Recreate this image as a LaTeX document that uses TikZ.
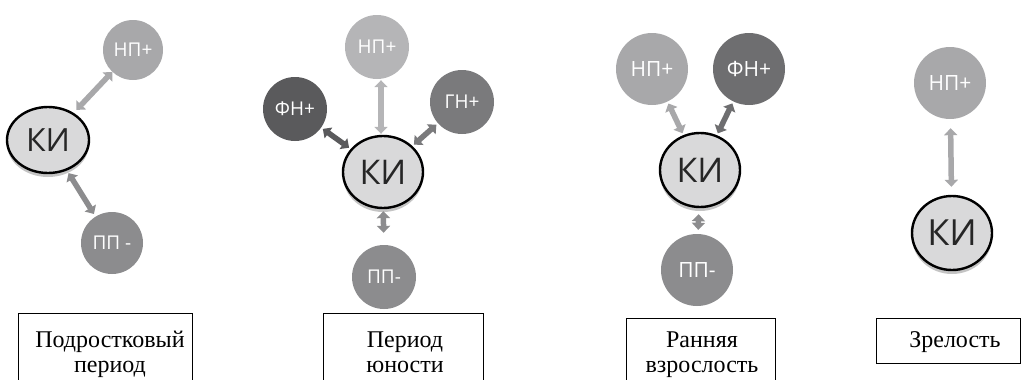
\documentclass[tikz,border=0pt]{standalone}
\usepackage{fontspec}
\setmainfont{Liberation Serif}
\newfontfamily\circfont{Open Sans}
\usetikzlibrary{arrows.meta,shapes.geometric}
\definecolor{cNP}{HTML}{A8A8AA}
\definecolor{cFNa}{HTML}{5A5A5C}
\definecolor{cFNb}{HTML}{6E6E70}
\definecolor{cGN}{HTML}{7A7A7C}
\definecolor{cPP}{HTML}{8C8C8E}
\definecolor{cKI}{HTML}{D9D9DA}
\definecolor{cShadow}{HTML}{C4C4C4}
\tikzset{
  bub/.style={circle, inner sep=0pt, text=white, font=\circfont\fontsize{#1}{#1}\selectfont},
  kinode/.style={ellipse, draw=black, line width=2.4pt, fill=cKI, inner sep=0pt, text=black!85, font=\circfont\fontsize{#1}{#1}\selectfont},
  dbl/.style={line width=5.5pt, {Triangle[width=13pt,length=7pt]}-{Triangle[width=13pt,length=7pt]}},
  lbl/.style={align=center, font=\fontsize{24}{25}\selectfont, inner sep=0pt, anchor=base},
  frame/.style={draw=black, line width=0.8pt}
}
\begin{document}
\begin{tikzpicture}[x=1pt,y=-1pt]
\useasboundingbox (0,0) rectangle (1021,380);
% ---------------- Panel 1
\fill[cShadow] (48,144) ellipse [x radius=41, y radius=33];
\node[kinode=32, minimum width=82pt, minimum height=66pt] (ki1) at (48,140) {КИ};
\node[bub=19, fill=cNP, minimum size=60pt] (np1) at (133,50) {НП+};
\node[bub=19, fill=cPP, minimum size=62pt] (pp1) at (112,243) {ПП -};
\draw[dbl, draw=cNP, shorten <=4pt] (ki1) -- (np1);
\draw[dbl, draw=cPP, shorten <=3pt, shorten >=3pt] (ki1) -- (pp1);
\draw[frame] (18,382) -- (18,313) -- (192,313) -- (192,382);
\node[lbl] (t1) at (110,372) {Подростковый\\период};
% ---------------- Panel 2
\fill[cShadow] (383,176) ellipse [x radius=40, y radius=36];
\node[kinode=34, minimum width=80pt, minimum height=72pt] (ki2) at (383,172) {КИ};
\node[bub=19, fill=cNP!85!white, minimum size=64pt] (np2) at (377,47) {НП+};
\node[bub=19, fill=cFNa, minimum size=64pt] (fn2) at (295,109) {ФН+};
\node[bub=19, fill=cGN, minimum size=64pt] (gn2) at (462,102) {ГН+};
\node[bub=19, fill=cPP, minimum size=64pt] (pp2) at (384,277) {ПП-};
\draw[dbl, draw=cNP!85!white, shorten <=1pt, shorten >=1pt] (ki2.north) ++(-2,0) coordinate (k2n) -- (k2n |- np2.south);
\draw[dbl, draw=cFNa, shorten <=2pt, shorten >=2pt] (ki2) -- (fn2);
\draw[dbl, draw=cGN, shorten <=2pt, shorten >=2pt] (ki2) -- (gn2);
\draw[dbl, draw=cPP, shorten <=2pt, shorten >=12pt] (ki2) -- (pp2);
\draw[frame] (323,382) -- (323,313) -- (483,313) -- (483,382);
\node[lbl] (t2) at (405,372) {Период\\юности};
% ---------------- Panel 3
\fill[cShadow] (700,174) ellipse [x radius=40, y radius=37];
\node[kinode=34, minimum width=80pt, minimum height=74pt] (ki3) at (700,170) {КИ};
\node[bub=21, fill=cNP, minimum size=72pt] (np3) at (652,69) {НП+};
\node[bub=21, fill=cFNb, minimum size=72pt] (fn3) at (749,69) {ФН+};
\node[bub=21, fill=cPP, minimum size=72pt] (pp3) at (697,270) {ПП-};
\draw[dbl, draw=cNP, shorten <=2pt, shorten >=2pt] (ki3) -- (np3);
\draw[dbl, draw=cFNb, shorten <=2pt, shorten >=2pt] (ki3) -- (fn3);
\draw[dbl, draw=cPP, shorten <=6pt, shorten >=4pt] (ki3) -- (pp3);
\draw[frame] (626,382) -- (626,318) -- (775,318) -- (775,382);
\node[lbl] (t3) at (702,372) {Ранняя\\взрослость};
% ---------------- Panel 4
\fill[cShadow] (952,237) ellipse [x radius=40, y radius=37];
\node[kinode=36, minimum width=80pt, minimum height=74pt] (ki4) at (952,233) {КИ};
\node[bub=21, fill=cNP, minimum size=72pt] (np4) at (950,83) {НП+};
\draw[dbl, draw=cNP, shorten <=8pt, shorten >=9pt] (ki4) -- (np4);
\draw[frame] (876,318) rectangle (1020.5,363);
\node[lbl] (t4) at (955,347) {Зрелость};
\end{tikzpicture}
\end{document}
